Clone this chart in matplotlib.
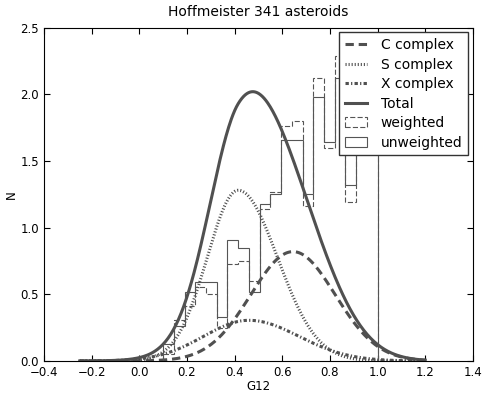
"""G12 distribution of the Hoffmeister family with a three-complex Gaussian model."""

import numpy as np
import matplotlib
matplotlib.use("Agg")
import matplotlib.pyplot as plt

plt.rcParams["lines.scale_dashes"] = False

# histogram bins in G12 (20 bins from 0.10 to 1.00)
bin_edges = [0.100, 0.145, 0.190, 0.235, 0.280, 0.325, 0.370, 0.415, 0.460, 0.505, 0.550,
             0.595, 0.640, 0.685, 0.730, 0.775, 0.820, 0.865, 0.910, 0.955, 1.000]

# normalised counts per bin
unweighted = [0.13, 0.26, 0.52, 0.59, 0.59, 0.33, 0.91, 0.85, 0.52, 1.18,
              1.25, 1.66, 1.66, 1.25, 1.98, 1.645, 2.12, 1.32, 1.76, 1.72]
weighted = [0.05, 0.31, 0.41, 0.555, 0.50, 0.25, 0.73, 0.75, 0.60, 1.14,
            1.27, 1.76, 1.80, 1.16, 2.125, 1.60, 2.29, 1.195, 1.88, 1.85]

# model components (split Gaussians): centre, left/right width, peak height
components = ["C complex", "S complex", "X complex"]
centres = [0.645, 0.415, 0.46]
left_widths = [0.177, 0.13, 0.19]
right_widths = [0.177, 0.165, 0.21]
peaks = [0.82, 1.28, 0.305]
styles = [(0, (6, 3.5)), (0, (0.8, 1.4)), (0, (2.4, 1.6, 0.9, 1.6))]

GREY = "#505050"
HGREY = "#555555"

fig = plt.figure(figsize=(4.86, 3.94), dpi=100)
ax = fig.add_axes([0.0905, 0.0838, 0.8825, 0.8462])

g = np.linspace(-0.25, 1.2, 400)
total = np.zeros_like(g)
for name, mu, sl, sr, amp, ls in zip(components, centres, left_widths,
                                     right_widths, peaks, styles):
    sig = np.where(g < mu, sl, sr)
    y = amp * np.exp(-0.5 * ((g - mu) / sig) ** 2)
    total += y
    ax.plot(g, y, ls=ls, color=GREY, lw=2.2, label=name)
ax.plot(g, total, "-", color=GREY, lw=2.2, label="Total")

ax.hist(bin_edges[:-1], bins=bin_edges, weights=weighted, histtype="step",
        ls="--", color=HGREY, lw=0.8, label="weighted")
ax.hist(bin_edges[:-1], bins=bin_edges, weights=unweighted, histtype="step",
        ls="-", color=HGREY, lw=0.8, label="unweighted")

ax.set_xlim(-0.4, 1.4)
ax.set_ylim(0, 2.5)
ax.set_xticks(np.arange(-0.4, 1.41, 0.2))
ax.set_yticks(np.arange(0, 2.51, 0.5))
ax.tick_params(direction="in", top=True, right=True, length=4, labelsize=8.5)
ax.set_xlabel("G12", fontsize=8.5, labelpad=1)
ax.set_ylabel("N", fontsize=8.5, labelpad=2)
ax.set_title("Hoffmeister 341 asteroids", fontsize=10, pad=8)

ax.legend(loc="upper right", fontsize=10, borderaxespad=0.35, handlelength=1.6,
          handletextpad=1.0, labelspacing=0.4, fancybox=False, framealpha=1,
          edgecolor="#333333")

fig.savefig("out.png", dpi=100)
plt.close(fig)
